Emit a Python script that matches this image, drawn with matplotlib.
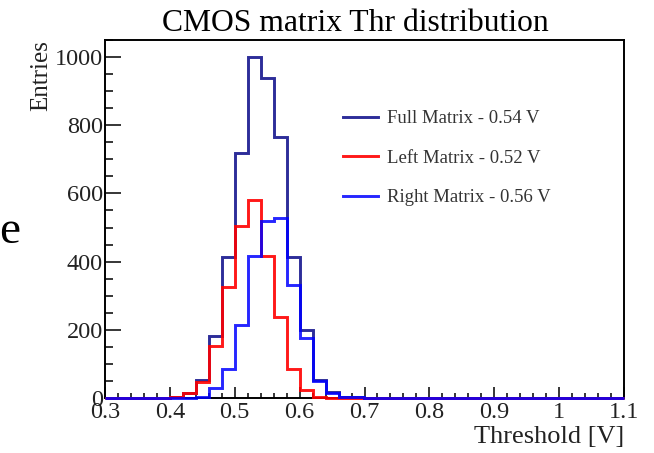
import numpy as np
import matplotlib
matplotlib.use("Agg")
import matplotlib.pyplot as plt
from matplotlib.ticker import MultipleLocator

plt.rcParams['font.family'] = ['Liberation Serif', 'DejaVu Serif']

# Histogram binning: 40 bins of 0.02 V from 0.3 V to 1.1 V
bin_lo = 0.3
bin_hi = 1.1
n_bins = 40

# Threshold counts per bin (bins 0.30-0.32 ... 1.08-1.10)
full_counts = [0, 0, 0, 0, 0, 3, 16, 52, 182, 414,
               720, 1000, 938, 765, 414, 198, 54, 17, 4, 2,
               0, 0, 0, 0, 0, 0, 0, 0, 0, 0,
               0, 0, 0, 0, 0, 0, 0, 0, 0, 0]
left_counts = [0, 0, 0, 0, 0, 3, 15, 48, 152, 327,
               504, 580, 417, 239, 84, 22, 4, 1, 0, 0,
               0, 0, 0, 0, 0, 0, 0, 0, 0, 0,
               0, 0, 0, 0, 0, 0, 0, 0, 0, 0]
right_counts = [0, 0, 0, 0, 0, 0, 1, 4, 28, 86,
                215, 417, 519, 529, 332, 176, 50, 16, 4, 2,
                0, 0, 0, 0, 0, 0, 0, 0, 0, 0,
                0, 0, 0, 0, 0, 0, 0, 0, 0, 0]

series_labels = ["Full Matrix - 0.54 V", "Left Matrix - 0.52 V", "Right Matrix - 0.56 V"]
series_colors = ["#2d2d99", "#ff0000", "#0000ff"]
series_alpha = [1.0, 0.9, 0.85]

title_text = "CMOS matrix Thr distribution"
x_label = "Threshold [V]"
y_label = "Entries"

edges = np.linspace(bin_lo, bin_hi, n_bins + 1)

W, H = 654, 453
fig = plt.figure(figsize=(W / 100, H / 100), dpi=100)
ax = fig.add_axes([105 / W, 1 - 398 / H, (624 - 105) / W, (398 - 40) / H])

for counts, lab, col, al in zip([full_counts, left_counts, right_counts],
                                series_labels, series_colors, series_alpha):
    ax.stairs(counts, edges, color=col, lw=2.1, alpha=al, label=lab,
              zorder=5, clip_on=False)

ax.set_xlim(bin_lo, bin_hi)
ax.set_ylim(0, 1050)

ax.xaxis.set_major_locator(MultipleLocator(0.1))
ax.xaxis.set_minor_locator(MultipleLocator(0.02))
ax.yaxis.set_major_locator(MultipleLocator(200))
ax.yaxis.set_minor_locator(MultipleLocator(50))
ax.xaxis.set_major_formatter(plt.FuncFormatter(lambda v, p: f"{v:g}"))

ax.tick_params(axis='both', which='both', direction='in', top=False, right=False,
               width=1.1, color='black', labelcolor='#222222', labelsize=17.5)
ax.tick_params(axis='x', which='major', length=7.7, pad=3)
ax.tick_params(axis='x', which='minor', length=3.9)
ax.tick_params(axis='y', which='major', length=11.2, pad=1.5)
ax.tick_params(axis='y', which='minor', length=5.6)

for sp in ax.spines.values():
    sp.set_linewidth(1.4)
    sp.set_color('black')

ax.set_xlabel(x_label, fontsize=19, color='#222222', loc='right', labelpad=2)
ax.set_ylabel(y_label, fontsize=18, color='#222222', loc='top', labelpad=2)

fig.text(355 / W, 1 - 31 / H, title_text, fontsize=22.8, ha='center', va='baseline')

leg = ax.legend(loc='upper left', bbox_to_anchor=((343 - 105) / 519, (398 - 110) / 358),
                frameon=False, fontsize=13.5, borderpad=0, borderaxespad=0,
                handlelength=1.87, handletextpad=0.5, labelspacing=1.2)
for t in leg.get_texts():
    t.set_color('#333333')

fig.text(20 / W, 1 - 243 / H, "e", fontsize=34, ha='right', va='baseline')

fig.savefig("out.png", dpi=100)
